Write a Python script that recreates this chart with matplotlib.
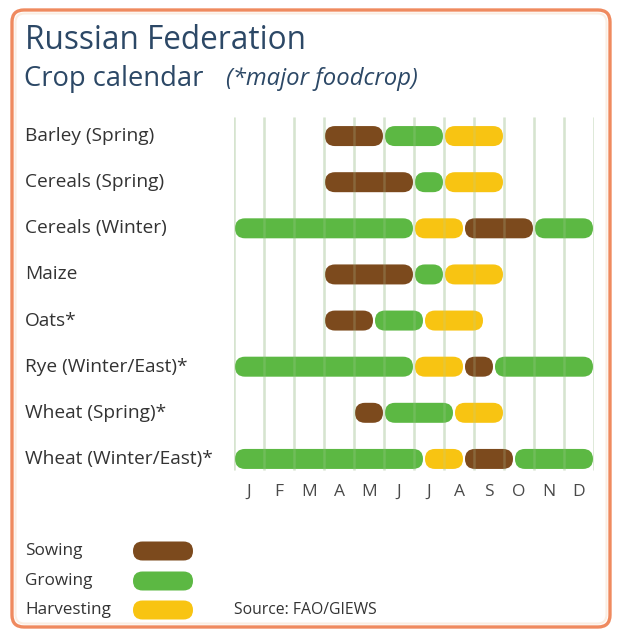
import matplotlib
matplotlib.use("Agg")
import matplotlib.pyplot as plt
from matplotlib.patches import FancyBboxPatch
from matplotlib.transforms import blended_transform_factory

plt.rcParams["font.family"] = ["Open Sans", "DejaVu Sans"]

# Crop calendar of the Russian Federation (periods in dekads, 36 per year)
crops = [
    "Barley (Spring)",
    "Cereals (Spring)",
    "Cereals (Winter)",
    "Maize",
    "Oats*",
    "Rye (Winter/East)*",
    "Wheat (Spring)*",
    "Wheat (Winter/East)*",
]
months = ["J", "F", "M", "A", "M", "J", "J", "A", "S", "O", "N", "D"]

sowing = [
    [(9, 15)],
    [(9, 18)],
    [(23, 30)],
    [(9, 18)],
    [(9, 14)],
    [(23, 26)],
    [(12, 15)],
    [(23, 28)],
]
growing = [
    [(15, 21)],
    [(18, 21)],
    [(0, 18), (30, 36)],
    [(18, 21)],
    [(14, 19)],
    [(0, 18), (26, 36)],
    [(15, 22)],
    [(0, 19), (28, 36)],
]
harvesting = [
    [(21, 27)],
    [(21, 27)],
    [(18, 23)],
    [(21, 27)],
    [(19, 25)],
    [(18, 23)],
    [(22, 27)],
    [(19, 23)],
]

phase_names = ["Sowing", "Growing", "Harvesting"]
phase_data = [sowing, growing, harvesting]
phase_colors = ["#7c4a1d", "#5cb843", "#f8c412"]

title_color = "#2c4866"
text_color = "#333333"
grid_color = "#e0eadb"

W, H = 620, 637
fig = plt.figure(figsize=(W / 100, H / 100), dpi=100)

# Background layer in pixel units: frame, titles, legend, source
bg = fig.add_axes([0, 0, 1, 1])
bg.set_xlim(0, W)
bg.set_ylim(H, 0)
bg.axis("off")

bg.add_patch(FancyBboxPatch((12, 10), 598, 617,
                            boxstyle="round,pad=0,rounding_size=12",
                            fc="white", ec="#ef8a5f", lw=2.4))
bg.add_patch(FancyBboxPatch((15.5, 13.5), 591, 610,
                            boxstyle="round,pad=0,rounding_size=9",
                            fc="none", ec="#fbeee2", lw=1.5))

bg.text(25, 49, "Russian Federation", fontsize=22.7, color=title_color,
        va="baseline", ha="left")
bg.text(24, 86, "Crop calendar", fontsize=19.7, color=title_color,
        va="baseline", ha="left")
bg.text(226, 85, "(*major foodcrop)", fontsize=17.2, style="italic",
        color=title_color, va="baseline", ha="left")

# Legend
legend_y = [551, 581, 610]
for name, color, ly in zip(phase_names, phase_colors, legend_y):
    bg.text(25, ly, name, fontsize=12.3, color=text_color, va="center", ha="left")
    bg.add_patch(FancyBboxPatch((133, ly - 9.5), 60, 19,
                                boxstyle="round,pad=0,rounding_size=9.5",
                                fc=color, ec="none"))
bg.text(234, 610, "Source: FAO/GIEWS", fontsize=11.3, color=text_color,
        va="center", ha="left")

# Calendar panel
ax_left, ax_right, ax_top, ax_bottom = 234, 594, 113, 482
ax = fig.add_axes([ax_left / W, 1 - ax_bottom / H,
                   (ax_right - ax_left) / W, (ax_bottom - ax_top) / H])
ax.set_xlim(0, 36)
ax.set_ylim(len(crops) - 0.5, -0.5)
ax.patch.set_alpha(0)
for s in ax.spines.values():
    s.set_visible(False)

px_x = 36 / (ax_right - ax_left)
px_y = len(crops) / (ax_bottom - ax_top)
bar_h = 20 * px_y
radius = 10 * px_x
gap = 1 * px_x

boundaries = list(range(0, 37, 3))
ax.vlines(boundaries, -0.41, len(crops) - 0.76, color=grid_color, lw=1.8, zorder=1)

for i in range(len(crops)):
    for segs, color in zip(phase_data, phase_colors):
        for a, b in segs[i]:
            ax.add_patch(FancyBboxPatch(
                (a + gap, i - bar_h / 2), b - a - 2 * gap, bar_h,
                boxstyle=f"round,pad=0,rounding_size={radius}",
                mutation_aspect=px_y / px_x,
                fc=color, ec="none", zorder=2))

# faint grid showing through the bars
ax.vlines(boundaries, -0.41, len(crops) - 0.76, color="#b4cfa8", lw=1.8,
          alpha=0.22, zorder=3)

ax.set_xticks([3 * k + 1.5 for k in range(12)])
ax.set_xticklabels(months)
ax.tick_params(axis="x", length=0, pad=1.5, labelsize=12.5, labelcolor="#4a4a4a")
ax.set_yticks([])

trans = blended_transform_factory(fig.transFigure, ax.transData)
for i, crop in enumerate(crops):
    ax.text(25 / W, i, crop, transform=trans, fontsize=13.8, color=text_color,
            va="center", ha="left")

fig.savefig("out.png", dpi=100)
